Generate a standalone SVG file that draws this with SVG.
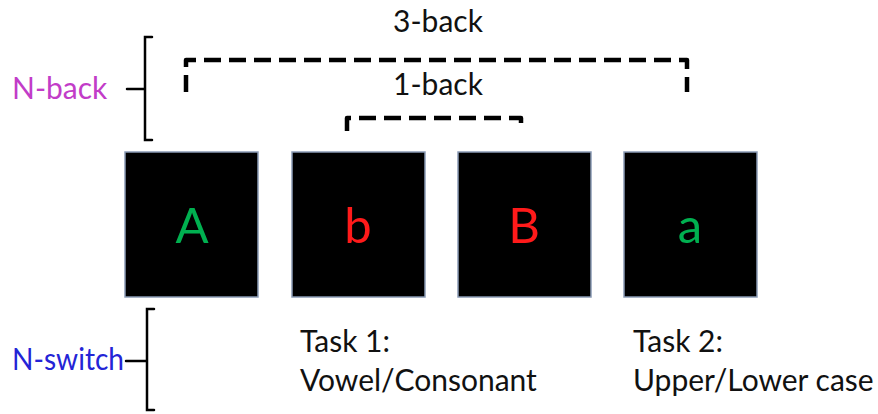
<svg xmlns="http://www.w3.org/2000/svg" width="878" height="414" viewBox="0 0 878 414">
<style>
.t{font-family:Lato,"Liberation Sans",sans-serif;font-size:30px;fill:#111}
.box{fill:#000;stroke:#8a9bb5;stroke-width:1.5}
.big{font-family:Lato,"Liberation Sans",sans-serif;font-size:49px;text-anchor:middle}
.br{fill:none;stroke:#000;stroke-width:2.5;stroke-linecap:round}
.dash{fill:none;stroke:#000;stroke-width:4.5;stroke-dasharray:17 8;stroke-linejoin:round}
</style>
<rect width="878" height="414" fill="#fff"/>
<g id="nback-label">
<text class="t" x="12" y="99" style="fill:#c23cc8">N-back</text>
<path class="br" d="M152 37 H145 V140 H152 M127 89 H145"/>
</g>
<g id="nswitch-label">
<text class="t" x="12" y="370" textLength="112" lengthAdjust="spacingAndGlyphs" style="fill:#2424d6">N-switch</text>
<path class="br" d="M154 309 H147 V410 H154 M126 361 H147"/>
</g>
<g id="box1"><rect class="box" x="125" y="152" width="133" height="145"/><text class="big" x="192" y="243" fill="#00b050">A</text></g>
<g id="box2"><rect class="box" x="292" y="152" width="133" height="145"/><text class="big" x="358" y="243" fill="#ff1a1a">b</text></g>
<g id="box3"><rect class="box" x="458" y="152" width="133" height="145"/><text class="big" x="524" y="243" fill="#ff1a1a">B</text></g>
<g id="box4"><rect class="box" x="624" y="152" width="133" height="145"/><text class="big" x="690" y="243" fill="#00b050">a</text></g>
<g id="connectors">
<path class="dash" d="M186 92 V60 H687 V92"/>
<path class="dash" d="M347 131 V118 H521 V131"/>
</g>
<g id="labels">
<text class="t" x="438" y="32" text-anchor="middle">3-back</text>
<text class="t" x="438" y="95" text-anchor="middle">1-back</text>
<text class="t" x="300" y="352">Task 1:</text>
<text class="t" x="300" y="391">Vowel/Consonant</text>
<text class="t" x="633" y="352">Task 2:</text>
<text class="t" x="633" y="391">Upper/Lower case</text>
</g>
</svg>
